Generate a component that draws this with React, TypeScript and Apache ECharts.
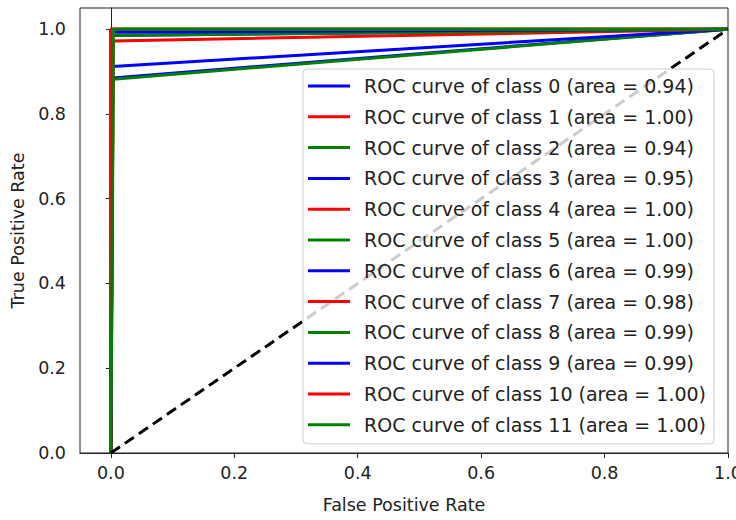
import React, { useEffect, useRef } from "react";
import * as echarts from "echarts";

const classIds = [0, 1, 2, 3, 4, 5, 6, 7, 8, 9, 10, 11];
const fprValues = [0.003, 0.0, 0.004, 0.003, 0.001, 0.0, 0.003, 0.004, 0.002, 0.002, 0.0, 0.004];
const tprValues = [0.885, 1.0, 0.882, 0.912, 0.998, 1.0, 0.985, 0.972, 0.985, 0.993, 1.0, 1.0];
const areaLabels = ["0.94", "1.00", "0.94", "0.95", "1.00", "1.00", "0.99", "0.98", "0.99", "0.99", "1.00", "1.00"];
const classColors = ["#0000ff", "#ff0000", "#008000"];
const xTicks = [0, 0.2, 0.4, 0.6, 0.8, 1.0];
const yTicks = [0, 0.2, 0.4, 0.6, 0.8, 1.0];
const diagonal = [
  [0, 0],
  [1, 1],
];

const FONT = "DejaVu Sans";

export default function App() {
  const ref = useRef<HTMLDivElement>(null);
  useEffect(() => {
    if (!ref.current) return;
    const chart = echarts.init(ref.current, null, { renderer: "svg" });
    const names = classIds.map(
      (c, i) => `ROC curve of class ${c} (area = ${areaLabels[i]})`
    );
    const series: any[] = classIds.map((c, i) => ({
      type: "line",
      name: names[i],
      data: [
        [0, 0],
        [fprValues[i], tprValues[i]],
        [1, 1],
      ],
      showSymbol: false,
      symbol: "none",
      color: classColors[i % 3],
      lineStyle: { width: 3, color: classColors[i % 3] },
      z: 2,
    }));
    series.push({
      type: "line",
      name: "diag",
      data: diagonal,
      showSymbol: false,
      symbol: "none",
      lineStyle: { width: 3, color: "#000", type: [11, 6] },
      z: 3,
    });
    const axisCommon = {
      axisLine: { show: true, lineStyle: { color: "#222", width: 1 } },
      splitLine: { show: false },
    };
    chart.setOption({
      animation: false,
      grid: {
        left: 80,
        right: 8,
        top: 8,
        bottom: 67,
        containLabel: false,
        outerBoundsMode: "none",
        show: true,
        borderColor: "#222",
        borderWidth: 1,
        backgroundColor: "#fff",
      },
      xAxis: {
        type: "value",
        min: -0.05,
        max: 1.0,
        ...axisCommon,
        axisTick: { show: true, length: 5, lineStyle: { color: "#222" }, customValues: xTicks },
        axisLabel: {
          customValues: xTicks,
          margin: 11,
          fontSize: 17.5,
          fontFamily: FONT,
          color: "#222",
          formatter: (v: number) => v.toFixed(1),
        },
        name: "False Positive Rate",
        nameLocation: "middle",
        nameGap: 43,
        nameTextStyle: { fontSize: 17.5, fontFamily: FONT, color: "#222" },
      },
      yAxis: {
        type: "value",
        min: 0,
        max: 1.05,
        ...axisCommon,
        axisTick: { show: true, length: 5, lineStyle: { color: "#222" }, customValues: yTicks },
        axisLabel: {
          customValues: yTicks,
          margin: 14,
          fontSize: 17.5,
          fontFamily: FONT,
          color: "#222",
          formatter: (v: number) => v.toFixed(1),
        },
        name: "True Positive Rate",
        nameLocation: "middle",
        nameGap: 52,
        nameTextStyle: { fontSize: 17.5, fontFamily: FONT, color: "#222" },
      },
      legend: {
        data: names,
        orient: "vertical",
        left: 303,
        top: 69,
        padding: [6, 8, 8, 5],
        itemGap: 8.8,
        itemWidth: 42,
        itemHeight: 3,
        icon: "rect",
        backgroundColor: "rgba(255,255,255,0.8)",
        borderColor: "#cccccc",
        borderWidth: 1,
        borderRadius: 4,
        selectedMode: false,
        textStyle: {
          fontSize: 19,
          lineHeight: 22,
          fontFamily: FONT,
          color: "#222",
          padding: [0, 0, 0, 9],
        },
      },
      series,
    });
    return () => chart.dispose();
  }, []);
  return (
    <div
      ref={ref}
      style={{ position: "fixed", left: 0, top: 0, width: 736, height: 520, background: "#fff" }}
    />
  );
}
